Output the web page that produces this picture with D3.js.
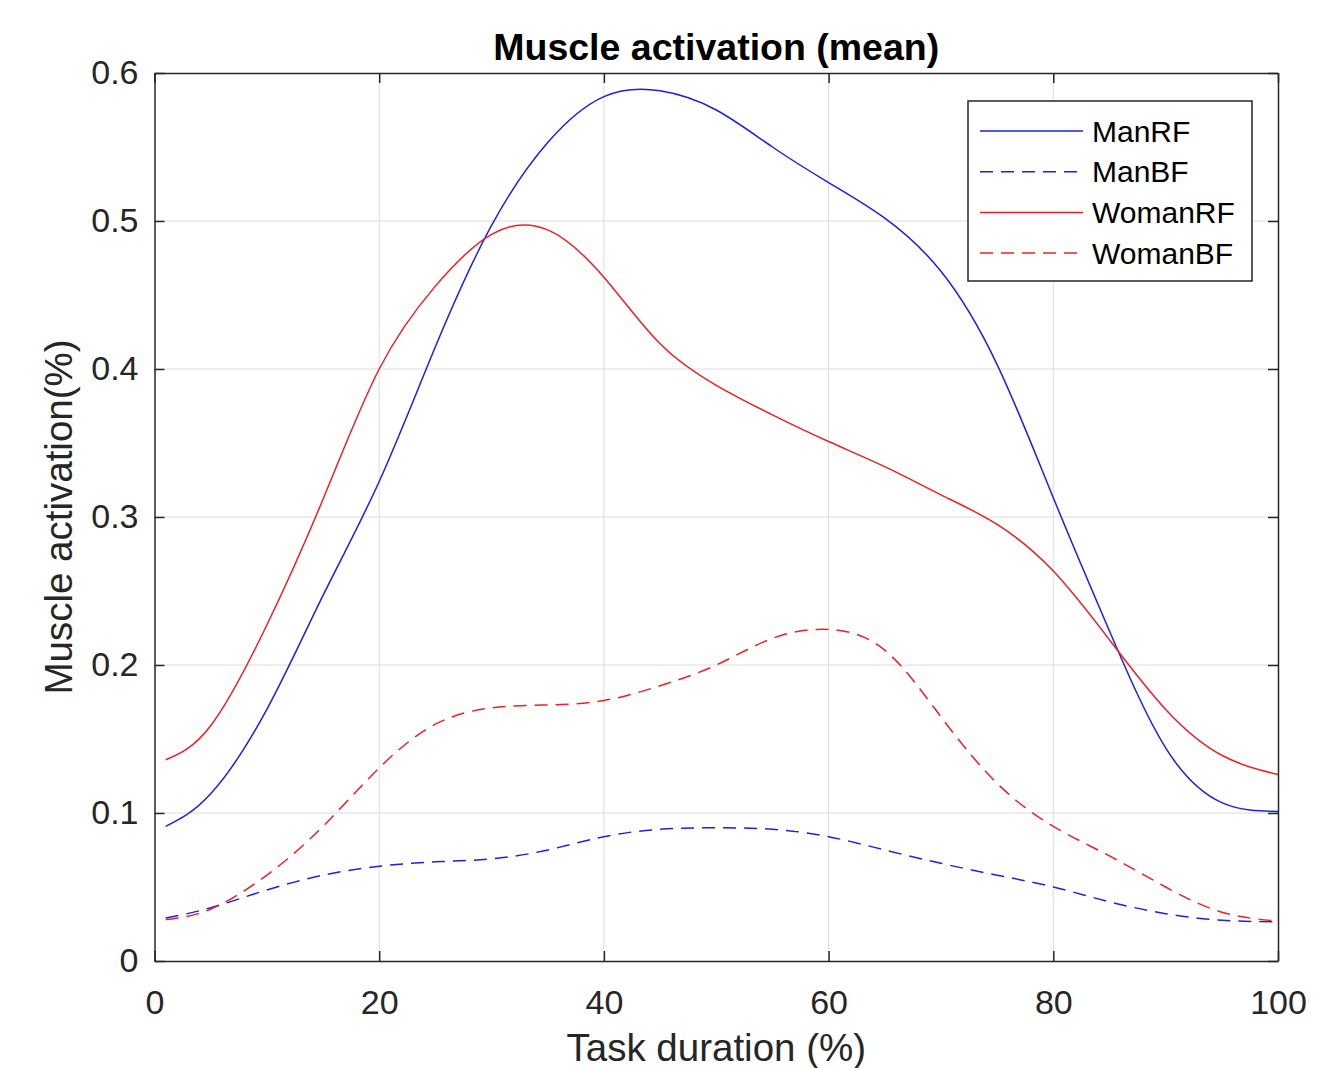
<!DOCTYPE html>
<html>
<head>
<meta charset="utf-8">
<style>
  body { margin: 0; background: #ffffff; }
  svg { display: block; font-family: Arial, "Liberation Sans", sans-serif; }
  .grid line { stroke: #dcdcdc; stroke-width: 1; }
  .tick-label { fill: #262626; font-size: 34px; }
</style>
</head>
<body>
<svg id="chart" width="1326" height="1068"></svg>
<script src="https://cdn.jsdelivr.net/npm/d3@7"></script>
<script>
// task duration (%) sample points
const taskPct = [1, 5, 10, 15, 20, 25, 30, 35, 40, 45, 50, 55, 60, 65, 70, 75, 80, 85, 90, 95, 100];

const manRF   = [0.091, 0.113, 0.170, 0.247, 0.324, 0.415, 0.497, 0.553, 0.584, 0.588, 0.575, 0.550, 0.526, 0.502, 0.466, 0.403, 0.313, 0.223, 0.144, 0.107, 0.101];
const manBF   = [0.029, 0.036, 0.048, 0.058, 0.064, 0.067, 0.069, 0.075, 0.084, 0.089, 0.090, 0.089, 0.084, 0.075, 0.066, 0.058, 0.050, 0.040, 0.032, 0.0275, 0.0265];
const womanRF = [0.136, 0.159, 0.227, 0.312, 0.400, 0.456, 0.491, 0.494, 0.462, 0.417, 0.389, 0.369, 0.351, 0.334, 0.315, 0.295, 0.2635, 0.217, 0.170, 0.139, 0.126];
const womanBF = [0.028, 0.035, 0.058, 0.091, 0.1305, 0.160, 0.171, 0.173, 0.176, 0.186, 0.200, 0.218, 0.224, 0.210, 0.165, 0.120, 0.091, 0.071, 0.050, 0.033, 0.027];

const seriesNames = ["ManRF", "ManBF", "WomanRF", "WomanBF"];
const seriesValues = [manRF, manBF, womanRF, womanBF];

const xTicks = [0, 20, 40, 60, 80, 100];
const yTicks = [0, 0.1, 0.2, 0.3, 0.4, 0.5, 0.6];

const blue = "#1f1fe6", red = "#ec2027";
const styles = {
  ManRF:   { color: blue, dash: null },
  ManBF:   { color: blue, dash: "13,8" },
  WomanRF: { color: red,  dash: null },
  WomanBF: { color: red,  dash: "13,8" }
};

let svg = d3.select("#chart");
let plotLeft = 154.5, plotRight = 1278, plotTop = 73, plotBottom = 961;

let x = d3.scaleLinear().domain([0, 100]).range([plotLeft, plotRight]);
let y = d3.scaleLinear().domain([0, 0.6]).range([plotBottom, plotTop]);

// grid
let grid = svg.append("g").attr("class", "grid");
grid.selectAll("line.gx").data(xTicks.slice(1, -1)).enter().append("line")
  .attr("x1", d => x(d)).attr("x2", d => x(d)).attr("y1", plotTop).attr("y2", plotBottom);
grid.selectAll("line.gy").data(yTicks.slice(1, -1)).enter().append("line")
  .attr("x1", plotLeft).attr("x2", plotRight).attr("y1", d => y(d)).attr("y2", d => y(d));

svg.append("clipPath").attr("id", "clip").append("rect")
  .attr("x", plotLeft).attr("y", plotTop).attr("width", plotRight - plotLeft).attr("height", plotBottom - plotTop);

// lines
let line = d3.line()
  .x(d => x(d[0]))
  .y(d => y(d[1]))
  .curve(d3.curveNatural);

let data = seriesNames.map((name, i) => ({ name: name, points: taskPct.map((t, j) => [t, seriesValues[i][j]]) }));

svg.append("g").attr("clip-path", "url(#clip)")
  .selectAll("path").data(data).enter().append("path")
  .attr("d", d => line(d.points))
  .attr("fill", "none")
  .attr("stroke", d => styles[d.name].color)
  .attr("stroke-width", 1.5)
  .attr("stroke-dasharray", d => styles[d.name].dash);

// axes (MATLAB style: ticks inside, box)
let axisColor = "#262626";
let xAxis = d3.axisBottom(x).tickValues(xTicks).tickSizeInner(-10).tickSizeOuter(0).tickPadding(22).tickFormat(d3.format("d"));
let gx = svg.append("g").attr("transform", `translate(0,${plotBottom})`).call(xAxis);
let xAxisTop = d3.axisTop(x).tickValues(xTicks).tickSizeInner(-10).tickSizeOuter(0).tickFormat("");
let gxt = svg.append("g").attr("transform", `translate(0,${plotTop})`).call(xAxisTop);

let yAxis = d3.axisLeft(y).tickValues(yTicks).tickSizeInner(-10).tickSizeOuter(0).tickPadding(16).tickFormat(d => d === 0 ? "0" : d3.format(".1f")(d));
let gy = svg.append("g").attr("transform", `translate(${plotLeft},0)`).call(yAxis);
let yAxisRight = d3.axisRight(y).tickValues(yTicks).tickSizeInner(-10).tickSizeOuter(0).tickFormat("");
let gyr = svg.append("g").attr("transform", `translate(${plotRight},0)`).call(yAxisRight);

[gx, gxt, gy, gyr].forEach(g => {
  g.select(".domain").attr("stroke", axisColor).attr("stroke-width", 1.5);
  g.selectAll(".tick line").attr("stroke", axisColor).attr("stroke-width", 1.5);
  g.selectAll(".tick text").attr("class", "tick-label").attr("font-family", null).attr("font-size", null);
});
gx.selectAll(".tick text").attr("dy", "0.9em");

// titles
svg.append("text")
  .attr("x", (plotLeft + plotRight) / 2).attr("y", 60)
  .attr("text-anchor", "middle")
  .style("font-size", "37.5px").style("font-weight", "bold").style("fill", "#000")
  .text("Muscle activation (mean)");

svg.append("text")
  .attr("x", (plotLeft + plotRight) / 2).attr("y", 1061)
  .attr("text-anchor", "middle")
  .style("font-size", "38.5px").style("fill", "#262626")
  .text("Task duration (%)");

svg.append("text")
  .attr("transform", `translate(72,${(plotTop + plotBottom) / 2}) rotate(-90)`)
  .attr("text-anchor", "middle")
  .style("font-size", "38.5px").style("fill", "#262626")
  .text("Muscle activation(%)");

// legend
let legend = svg.append("g");
legend.append("rect")
  .attr("x", 968).attr("y", 101).attr("width", 284).attr("height", 180)
  .attr("fill", "#fff").attr("stroke", axisColor).attr("stroke-width", 1.5);

let rows = legend.selectAll("g.row").data(seriesNames).enter().append("g")
  .attr("transform", (d, i) => `translate(0,${131 + i * 40.7})`);
rows.append("line")
  .attr("x1", 980).attr("x2", 1083).attr("y1", 0).attr("y2", 0)
  .attr("stroke", d => styles[d].color)
  .attr("stroke-width", 1.5)
  .attr("stroke-dasharray", d => styles[d].dash);
rows.append("text")
  .attr("x", 1092).attr("y", 0).attr("dy", "0.35em")
  .style("font-size", "30px").style("fill", "#000")
  .text(d => d);
</script>
</body>
</html>
